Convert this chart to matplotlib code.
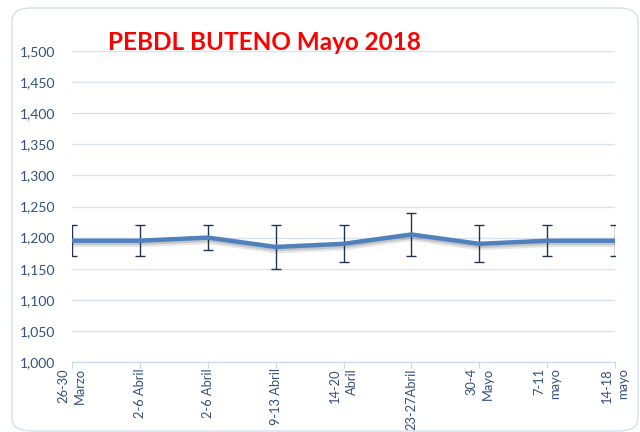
import numpy as np
import matplotlib
matplotlib.use("Agg")
import matplotlib.pyplot as plt
import matplotlib.patheffects as pe
from matplotlib.patches import FancyBboxPatch

plt.rcParams['font.family'] = ['Lato', 'DejaVu Sans']

# semanas
semanas = ["26-30\nMarzo", "2-6 Abril", "2-6 Abril", "9-13 Abril", "14-20\nAbril",
           "23-27Abril", "30-4\nMayo", "7-11\nmayo", "14-18\nmayo"]
precio = [1195, 1195, 1200, 1185, 1190, 1205, 1190, 1195, 1195]
maximo = [1220, 1220, 1220, 1220, 1220, 1240, 1220, 1220, 1220]
minimo = [1170, 1170, 1180, 1150, 1160, 1170, 1160, 1170, 1170]

err_lo = np.array(precio) - np.array(minimo)
err_hi = np.array(maximo) - np.array(precio)

fig = plt.figure(figsize=(6.4, 4.32), dpi=100)

# marco redondeado del grafico
marco = FancyBboxPatch((12/640, 1/432), 626/640, 423/432,
                       boxstyle="round,pad=0,rounding_size=0.03",
                       transform=fig.transFigure, fill=False,
                       edgecolor="#D5DFEF", linewidth=1.0)
fig.patches.append(marco)

ax = fig.add_axes([72/640, 1 - 362/432, 543/640, 311/432])
x = np.arange(len(semanas))

ax.errorbar(x, precio, yerr=[err_lo, err_hi], fmt="none", ecolor="#1F3458",
            elinewidth=1.0, capsize=3.5, capthick=1.0, zorder=3)
sombra = [pe.SimpleLineShadow(offset=(0, -2.2), alpha=0.12, shadow_color="#333333", linewidth=5),
          pe.SimpleLineShadow(offset=(0, -1.6), alpha=0.18, shadow_color="#333333"),
          pe.Normal()]
ax.plot(x, precio, color="#4F81BD", linewidth=3.2, zorder=4, path_effects=sombra)

ax.set_xlim(0, len(semanas) - 1)
ax.set_ylim(1000, 1500)
ax.set_yticks(np.arange(1000, 1501, 50))
ax.set_yticklabels(["{:,}".format(v) for v in range(1000, 1501, 50)])
ax.set_xticks(x)
ax.set_xticklabels(semanas, rotation=90, ha="center", va="top",
                   multialignment="right", linespacing=1.45)

ax.grid(axis="y", color="#D9E2F3", linewidth=1.0)
ax.set_axisbelow(True)
for s in ["top", "right", "left"]:
    ax.spines[s].set_visible(False)
ax.spines["bottom"].set_color("#C9D7EE")
ax.tick_params(axis="y", length=0, pad=12, labelsize=10, labelcolor="#34507E")
ax.tick_params(axis="x", length=4, color="#C9D7EE", pad=0.5, labelsize=9.3, labelcolor="#34507E")

fig.text(108/640, 1 - 42/432, "PEBDL BUTENO Mayo 2018", color="#FF0000",
         fontsize=17.5, fontweight="bold", ha="left", va="center")

fig.savefig("out.png", dpi=100)
